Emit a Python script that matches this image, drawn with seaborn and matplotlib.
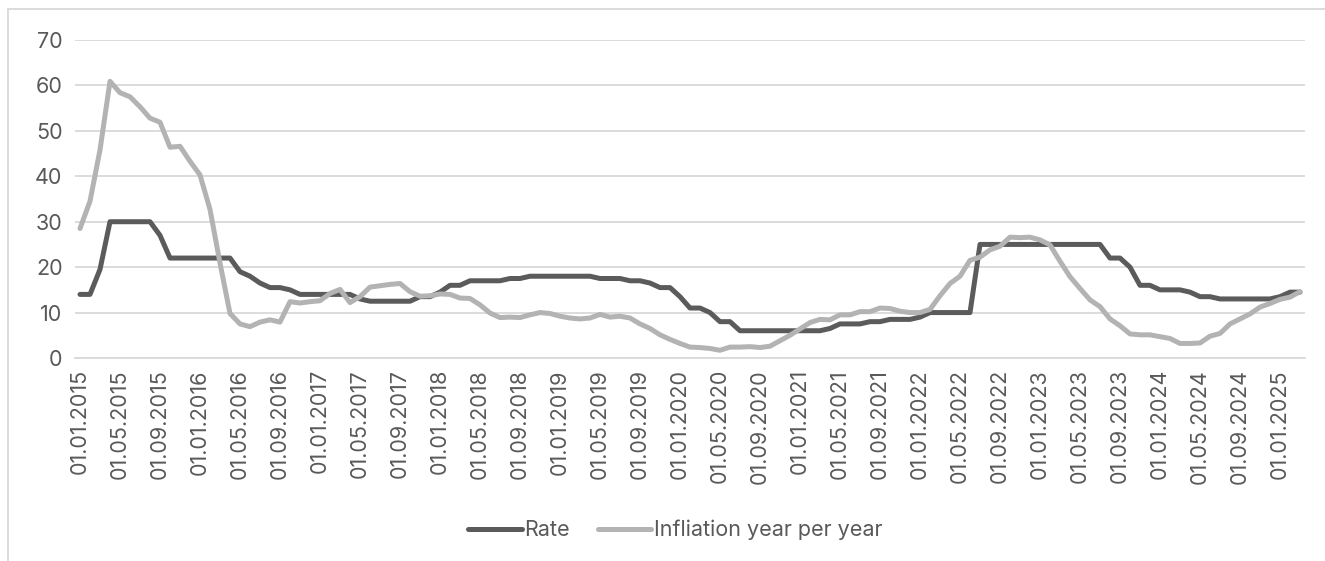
import matplotlib
matplotlib.use("Agg")
import matplotlib.pyplot as plt
import seaborn as sns
import pandas as pd
import numpy as np
from matplotlib.patches import Rectangle
from matplotlib.lines import Line2D

# Monthly observations, first day of each month, 01.01.2015 - 01.03.2025
dates = pd.date_range("2015-01-01", "2025-03-01", freq="MS")

rate = [
    14, 14, 19.5, 30, 30, 30, 30, 30, 27, 22, 22, 22,
    22, 22, 22, 22, 19, 18, 16.5, 15.5, 15.5, 15, 14, 14,
    14, 14, 14, 14, 13, 12.5, 12.5, 12.5, 12.5, 12.5, 13.5, 13.5,
    14.5, 16, 16, 17, 17, 17, 17, 17.5, 17.5, 18, 18, 18,
    18, 18, 18, 18, 17.5, 17.5, 17.5, 17, 17, 16.5, 15.5, 15.5,
    13.5, 11, 11, 10, 8, 8, 6, 6, 6, 6, 6, 6,
    6, 6, 6, 6.5, 7.5, 7.5, 7.5, 8, 8, 8.5, 8.5, 8.5,
    9, 10, 10, 10, 10, 10, 25, 25, 25, 25, 25, 25,
    25, 25, 25, 25, 25, 25, 25, 22, 22, 20, 16, 16,
    15, 15, 15, 14.5, 13.5, 13.5, 13, 13, 13, 13, 13, 13,
    13.5, 14.5, 14.5,
]

inflation = [
    28.5, 34.5, 45.8, 60.9, 58.4, 57.5, 55.3, 52.8, 51.9, 46.4, 46.6, 43.3,
    40.3, 32.7, 20.9, 9.8, 7.5, 6.9, 7.9, 8.4, 7.9, 12.4, 12.1, 12.4,
    12.6, 14.2, 15.1, 12.2, 13.5, 15.6, 15.9, 16.2, 16.4, 14.6, 13.6, 13.7,
    14.1, 14.0, 13.2, 13.1, 11.7, 9.9, 8.9, 9.0, 8.9, 9.5, 10.0, 9.8,
    9.2, 8.8, 8.6, 8.8, 9.6, 9.0, 9.2, 8.8, 7.5, 6.5, 5.1, 4.1,
    3.2, 2.4, 2.3, 2.1, 1.7, 2.4, 2.4, 2.5, 2.3, 2.6, 3.8, 5.0,
    6.4, 7.8, 8.5, 8.4, 9.5, 9.5, 10.2, 10.2, 11.0, 10.9, 10.3, 10.0,
    10.0, 10.7, 13.7, 16.4, 18.0, 21.5, 22.2, 23.8, 24.6, 26.6, 26.5, 26.6,
    26.0, 24.9, 21.3, 17.9, 15.3, 12.8, 11.3, 8.6, 7.1, 5.3, 5.1, 5.1,
    4.7, 4.3, 3.2, 3.2, 3.3, 4.8, 5.4, 7.5, 8.6, 9.7, 11.2, 12.0,
    12.9, 13.4, 14.6,
]

series_names = ["Rate", "Infliation year per year"]
series_colors = ["#5b5b5b", "#b3b3b3"]

labels = [d.strftime("%d.%m.%Y") for d in dates]
idx = np.arange(len(dates))

df = pd.concat([
    pd.DataFrame({"i": idx, "value": rate, "series": series_names[0]}),
    pd.DataFrame({"i": idx, "value": inflation, "series": series_names[1]}),
])

sns.set_theme(style="white")
plt.rcParams["font.family"] = ["Inter", "DejaVu Sans"]
text_color = "#595959"
grid_color = "#d9d9d9"
fs = 15.5

fig = plt.figure(figsize=(13.25, 5.61), dpi=100)
ax = fig.add_axes([75 / 1325, 1 - 358 / 561, 1230 / 1325, 318 / 561])

sns.lineplot(data=df, x="i", y="value", hue="series", hue_order=series_names,
             palette=series_colors, linewidth=3.6, ax=ax, legend=False,
             solid_joinstyle="round", solid_capstyle="round")

ax.set_xlim(-0.5, len(dates) - 0.5)
ax.set_ylim(0, 70)
ax.set_yticks(range(0, 71, 10))
ax.yaxis.grid(True, color=grid_color, linewidth=1.3)
ax.set_axisbelow(True)
for s in ["left", "right", "top"]:
    ax.spines[s].set_visible(False)
ax.spines["bottom"].set_color(grid_color)
ax.spines["bottom"].set_linewidth(1.3)

# category labels every 4 months, tick marks on category boundaries
ax.set_xticks(idx[::4])
ax.set_xticklabels(labels[::4], rotation=90)
ax.set_xticks(np.arange(-0.5, len(dates) - 1, 4), minor=True)
ax.tick_params(axis="x", which="major", length=0, pad=8, labelsize=fs, labelcolor=text_color)
ax.tick_params(axis="x", which="minor", length=6, width=1.3, color=grid_color)
ax.tick_params(axis="y", length=0, pad=9, labelsize=fs, labelcolor=text_color)
ax.set_xlabel("")
ax.set_ylabel("")

# legend below the axis labels
handles = [Line2D([], [], color=c, linewidth=3.6, solid_capstyle="round") for c in series_colors]
fig.legend(handles, series_names, loc="center", bbox_to_anchor=(675 / 1325, 1 - 530 / 561),
           ncol=2, frameon=False, fontsize=fs, labelcolor=text_color,
           handlelength=2.5, handletextpad=0.1, columnspacing=1.3)

# chart-area frame
fig.patches.append(Rectangle((8 / 1325, -0.01), 1.2, 1 - 9 / 561 + 0.01, transform=fig.transFigure,
                             fill=False, edgecolor=grid_color, linewidth=1.3))

fig.savefig("out.png", dpi=100, facecolor="white")
